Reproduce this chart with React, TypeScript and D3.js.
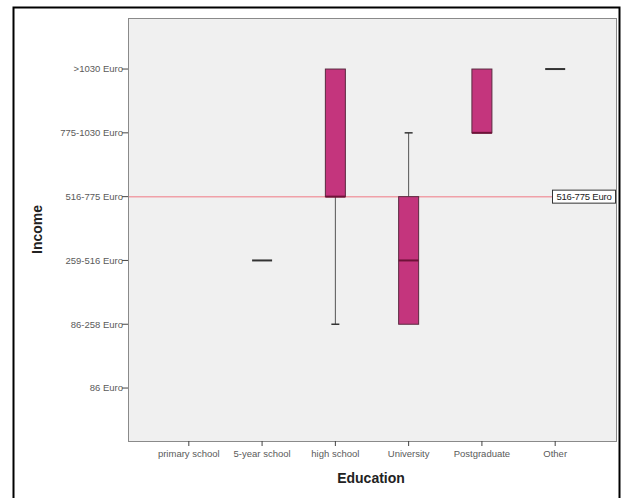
import React from "react";
import * as d3 from "d3";

// Education categories along the x axis
const categories = [
  "primary school",
  "5-year school",
  "high school",
  "University",
  "Postgraduate",
  "Other",
];

// Income classes (ordinal codes 1..6)
const incomeLabels = [
  "86 Euro",
  "86-258 Euro",
  "259-516 Euro",
  "516-775 Euro",
  "775-1030 Euro",
  ">1030 Euro",
];
const incomeCodes = [1, 2, 3, 4, 5, 6];

// Box statistics per category (null = no data)
const whiskerLow = [null, 3, 2, 2, 5, 6];
const q1 = [null, 3, 4, 2, 5, 6];
const median = [null, 3, 4, 3, 5, 6];
const q3 = [null, 3, 6, 4, 6, 6];
const whiskerHigh = [null, 3, 6, 5, 6, 6];

// Reference line
const refValue = 4;
const refLabel = "516-775 Euro";

const W = 625;
const H = 498;
const plot = { left: 128, right: 616, top: 18, bottom: 441 };

export default function App() {
  const x = d3
    .scalePoint<string>()
    .domain(categories)
    .range([plot.left, plot.right])
    .padding(0.83);
  const y = d3.scaleLinear().domain([0.17, 6.8]).range([plot.bottom, plot.top]);

  const boxW = 20;
  const capW = 8;
  const fill = "#c4357d";
  const edge = "#5a2a40";
  const medColor = "#6e1238";
  const font = "'Liberation Sans', Arial, sans-serif";
  const tickFont = 9.5;

  return (
    <svg
      width={W}
      height={H}
      style={{ position: "absolute", left: 0, top: 0, background: "#fff" }}
      fontFamily={font}
    >
      <rect x={0} y={0} width={W} height={H} fill="#fff" />
      {/* outer frame */}
      <rect x={13.5} y={7.5} width={606} height={500} fill="none" stroke="#000" strokeWidth={2} />

      {/* plot panel */}
      <rect
        x={plot.left + 0.5}
        y={plot.top + 0.5}
        width={plot.right - plot.left}
        height={plot.bottom - plot.top}
        fill="#f0f0f0"
        stroke="#8a8a8a"
        strokeWidth={1}
      />

      {/* y axis ticks and labels */}
      {incomeCodes.map((v, i) => (
        <g key={"yt" + v}>
          <line x1={plot.left - 6} x2={plot.left} y1={y(v)} y2={y(v)} stroke="#444" />
          <text
            x={plot.left - 5}
            y={y(v)}
            dy="0.35em"
            textAnchor="end"
            fontSize={tickFont}
            fill="#5a5a5a"
          >
            {incomeLabels[i]}
          </text>
        </g>
      ))}
      <text
        transform={`translate(42,${(plot.top + plot.bottom) / 2}) rotate(-90)`}
        textAnchor="middle"
        fontSize={14}
        fontWeight="bold"
        fill="#222"
      >
        Income
      </text>

      {/* x axis ticks and labels */}
      {categories.map((c) => (
        <g key={"xt" + c}>
          <line x1={x(c)} x2={x(c)} y1={plot.bottom} y2={plot.bottom + 5} stroke="#444" />
          <text
            x={x(c)}
            y={plot.bottom + 16}
            textAnchor="middle"
            fontSize={tickFont}
            fill="#5a5a5a"
          >
            {c}
          </text>
        </g>
      ))}
      <text
        x={(plot.left + plot.right) / 2 - 1}
        y={483}
        textAnchor="middle"
        fontSize={14}
        fontWeight="bold"
        fill="#222"
      >
        Education
      </text>

      {/* reference line */}
      <line
        x1={plot.left + 1}
        x2={552}
        y1={y(refValue)}
        y2={y(refValue)}
        stroke="#f0a0a8"
        strokeWidth={1.5}
      />

      {/* boxes */}
      {categories.map((c, i) => {
        if (q1[i] === null) return null;
        const cx = x(c) as number;
        const lo = whiskerLow[i] as number;
        const hi = whiskerHigh[i] as number;
        const a = q1[i] as number;
        const b = q3[i] as number;
        const m = median[i] as number;
        return (
          <g key={"box" + c}>
            {lo < a && (
              <>
                <line x1={cx} x2={cx} y1={y(lo)} y2={y(a)} stroke="#555" />
                <line x1={cx - capW / 2} x2={cx + capW / 2} y1={y(lo)} y2={y(lo)} stroke="#333" strokeWidth={1.5} />
              </>
            )}
            {hi > b && (
              <>
                <line x1={cx} x2={cx} y1={y(hi)} y2={y(b)} stroke="#555" />
                <line x1={cx - capW / 2} x2={cx + capW / 2} y1={y(hi)} y2={y(hi)} stroke="#333" strokeWidth={1.5} />
              </>
            )}
            {b > a ? (
              <rect
                x={cx - boxW / 2}
                y={y(b)}
                width={boxW}
                height={y(a) - y(b)}
                fill={fill}
                stroke={edge}
                strokeWidth={1}
              />
            ) : null}
            <line
              x1={cx - boxW / 2}
              x2={cx + boxW / 2}
              y1={y(m)}
              y2={y(m)}
              stroke={b > a ? medColor : "#333"}
              strokeWidth={2}
            />
          </g>
        );
      })}

      {/* reference line label */}
      <rect x={552.5} y={y(refValue) - 6.5} width={63} height={13} fill="#fff" stroke="#333" />
      <text
        x={584}
        y={y(refValue)}
        dy="0.35em"
        textAnchor="middle"
        fontSize={tickFont}
        fill="#222"
        letterSpacing={-0.2}
      >
        {refLabel}
      </text>
    </svg>
  );
}
